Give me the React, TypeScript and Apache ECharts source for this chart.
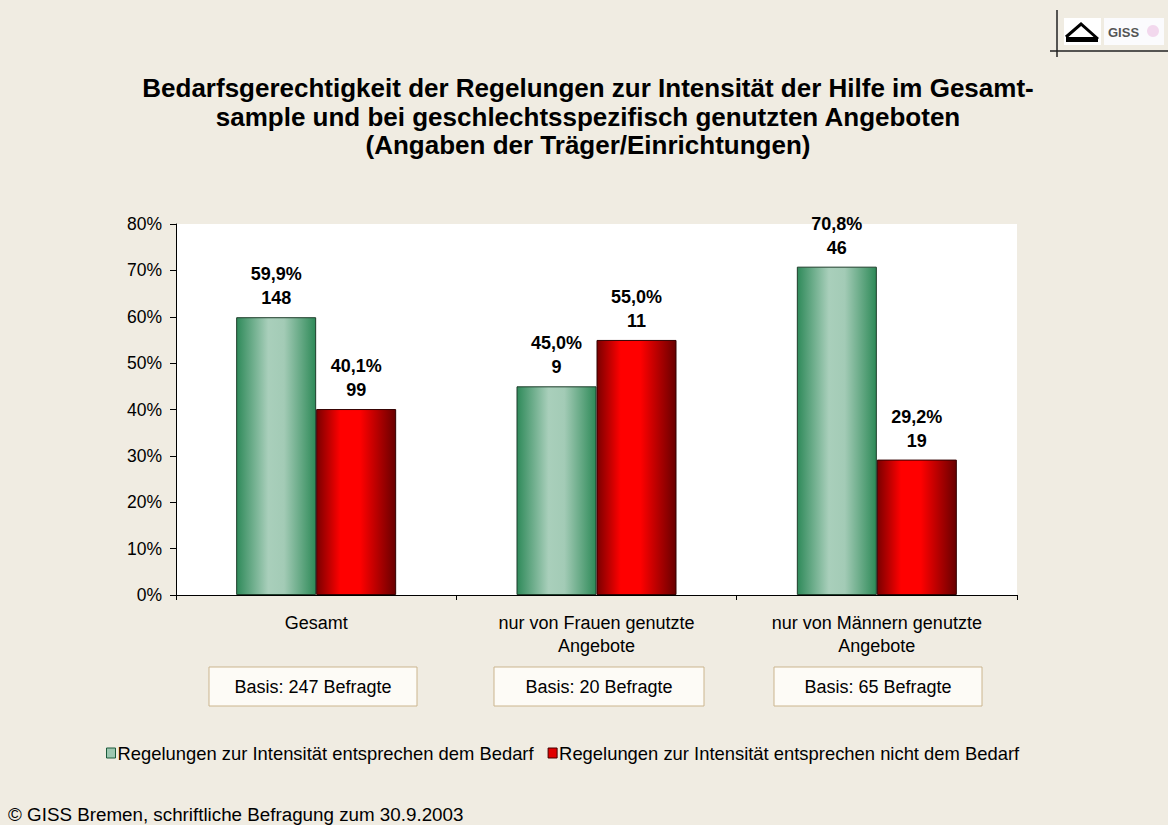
import React, { useEffect, useRef } from "react";
import * as echarts from "echarts";

const categories = ["Gesamt", "nur von Frauen genutzte\nAngebote", "nur von Männern genutzte\nAngebote"];
const basisLabels = ["Basis: 247 Befragte", "Basis: 20 Befragte", "Basis: 65 Befragte"];
const seriesNames = [
  "Regelungen zur Intensität entsprechen dem Bedarf",
  "Regelungen zur Intensität entsprechen nicht dem Bedarf",
];
const yesPercent = [59.9, 45.0, 70.8];
const yesCount = [148, 9, 46];
const noPercent = [40.1, 55.0, 29.2];
const noCount = [99, 11, 19];

const FONT = "Liberation Sans, Arial, sans-serif";

const greenGrad = new echarts.graphic.LinearGradient(0, 0, 1, 0, [
  { offset: 0, color: "#2f8a5a" },
  { offset: 0.4, color: "#a9cfbb" },
  { offset: 0.6, color: "#a3cbb6" },
  { offset: 1, color: "#2e8a58" },
]);
const redGrad = new echarts.graphic.LinearGradient(0, 0, 1, 0, [
  { offset: 0, color: "#7a0000" },
  { offset: 0.3, color: "#ff0000" },
  { offset: 0.55, color: "#ff0000" },
  { offset: 1, color: "#680000" },
]);

const fmt = (v: number) => v.toFixed(1).replace(".", ",") + "%";

export default function App() {
  const ref = useRef<HTMLDivElement>(null);
  useEffect(() => {
    if (!ref.current) return;
    const chart = echarts.init(ref.current, null, { renderer: "svg" });
    const boxX = [209, 494, 774];
    const boxW = [208, 210, 208];
    const graphics: any[] = [];
    basisLabels.forEach((t, i) => {
      graphics.push({
        type: "rect",
        shape: { x: boxX[i], y: 667, width: boxW[i], height: 39 },
        style: { fill: "#fdfbf6", stroke: "#cbb58e", lineWidth: 1 },
      });
      graphics.push({
        type: "text",
        x: boxX[i] + boxW[i] / 2,
        y: 687,
        style: { text: t, fill: "#000", font: `18px ${FONT}`, align: "center", verticalAlign: "middle" },
      });
    });
    graphics.push(
      { type: "line", shape: { x1: 1057, y1: 10, x2: 1057, y2: 57 }, style: { stroke: "#222", lineWidth: 1.5 } },
      { type: "line", shape: { x1: 1050, y1: 51, x2: 1168, y2: 51 }, style: { stroke: "#222", lineWidth: 1.5 } },
      { type: "rect", shape: { x: 1064, y: 18, width: 37, height: 27 }, style: { fill: "#fff" } },
      { type: "polyline", shape: { points: [[1066, 37], [1081, 24], [1098, 39]] }, style: { stroke: "#000", lineWidth: 3, fill: "none" } },
      { type: "rect", shape: { x: 1066, y: 37, width: 32, height: 5 }, style: { fill: "#000" } },
      { type: "rect", shape: { x: 1104, y: 18, width: 60, height: 27 }, style: { fill: "#fbfbfd" } },
      { type: "text", x: 1108, y: 32, style: { text: "GISS", fill: "#555", font: `bold 13px ${FONT}`, verticalAlign: "middle" } },
      { type: "circle", shape: { cx: 1153, cy: 31, r: 6 }, style: { fill: "#f0d0e8", opacity: 0.8 } },
      {
        type: "text",
        left: 8,
        top: 805,
        style: { text: "© GISS Bremen, schriftliche Befragung zum 30.9.2003", fill: "#000", font: `18.8px ${FONT}` },
      }
    );

    chart.setOption({
      animation: false,
      backgroundColor: "#f0ece2",
      title: {
        text: "Bedarfsgerechtigkeit der Regelungen zur Intensität der Hilfe im Gesamt-\nsample und bei geschlechtsspezifisch genutzten Angeboten\n(Angaben der Träger/Einrichtungen)",
        left: 583,
        textAlign: "center",
        top: 69,
        textStyle: { fontFamily: FONT, fontSize: 26, fontWeight: "bold", color: "#000", lineHeight: 28.5 },
      },
      legend: {
        left: 101,
        top: 739,
        icon: "rect",
        itemWidth: 9,
        itemHeight: 10,
        itemGap: 14,
        textStyle: { fontFamily: FONT, fontSize: 18.4, color: "#000", padding: [0, 0, 0, -3] },
        data: [
          { name: seriesNames[0], itemStyle: { color: "#9cc7b0", borderColor: "#1a5a3a", borderWidth: 1 } },
          { name: seriesNames[1], itemStyle: { color: "#e00000", borderColor: "#400", borderWidth: 1 } },
        ],
      },
      grid: { left: 176, right: 151, top: 224, bottom: 230, show: true, backgroundColor: "#fff", borderWidth: 0 },
      xAxis: {
        type: "category",
        data: categories,
        axisLine: { lineStyle: { color: "#000" } },
        axisTick: { show: true, alignWithLabel: false, length: 5, lineStyle: { color: "#000" } },
        axisLabel: { fontFamily: FONT, fontSize: 18, color: "#000", margin: 16, lineHeight: 23 },
      },
      yAxis: {
        type: "value",
        min: 0,
        max: 80,
        interval: 10,
        splitLine: { show: false },
        axisLine: { show: true, lineStyle: { color: "#000" } },
        axisTick: { show: true, length: 6, lineStyle: { color: "#000" } },
        axisLabel: { fontFamily: FONT, fontSize: 17.5, color: "#000", margin: 14, formatter: "{value}%" },
      },
      series: [
        {
          name: seriesNames[0],
          type: "bar",
          data: yesPercent,
          barWidth: 80,
          barGap: "0%",
          itemStyle: { color: greenGrad, borderColor: "#1d3d2a", borderWidth: 1 },
          label: {
            show: true,
            position: "top",
            distance: 7,
            fontFamily: FONT,
            fontSize: 18,
            fontWeight: "bold",
            color: "#000",
            lineHeight: 24,
            formatter: (p: any) => fmt(yesPercent[p.dataIndex]) + "\n" + yesCount[p.dataIndex],
          },
        },
        {
          name: seriesNames[1],
          type: "bar",
          data: noPercent,
          barWidth: 80,
          itemStyle: { color: redGrad, borderColor: "#300", borderWidth: 1 },
          label: {
            show: true,
            position: "top",
            distance: 7,
            fontFamily: FONT,
            fontSize: 18,
            fontWeight: "bold",
            color: "#000",
            lineHeight: 24,
            formatter: (p: any) => fmt(noPercent[p.dataIndex]) + "\n" + noCount[p.dataIndex],
          },
        },
      ],
      graphic: graphics,
    });
    return () => chart.dispose();
  }, []);
  return <div ref={ref} style={{ position: "fixed", left: 0, top: 0, width: 1168, height: 825 }} />;
}
